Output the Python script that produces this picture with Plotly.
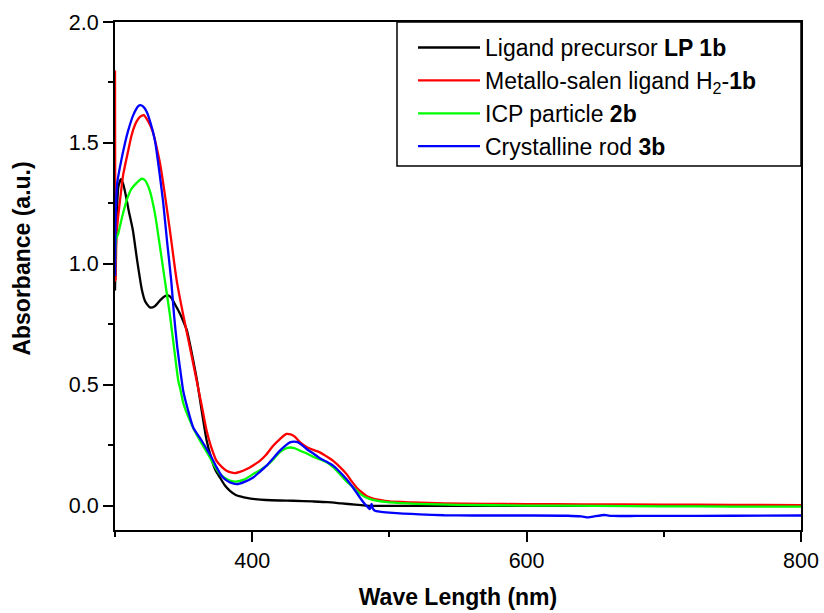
import plotly.graph_objects as go

# ---- data ----
lp_x = [300, 301, 302.5, 304.4, 306, 308, 310, 313, 316, 319.7, 322, 325.5, 329, 333, 336, 338.6,
        341, 344, 347.3, 350, 352.4, 356, 359.7, 363, 366.8, 370, 373, 376.5, 380, 383.8, 388, 392,
        396, 402, 410, 420, 430, 444, 455, 465, 475, 483, 490, 500, 520, 550, 600, 650, 700, 750, 800]
lp_y = [0.89, 1.15, 1.32, 1.35, 1.33, 1.28, 1.22, 1.14, 1.02, 0.89, 0.845, 0.82, 0.825, 0.85, 0.865, 0.87,
        0.86, 0.83, 0.795, 0.76, 0.725, 0.63, 0.52, 0.40, 0.27, 0.20, 0.15, 0.117, 0.085, 0.062, 0.045, 0.038,
        0.033, 0.028, 0.024, 0.022, 0.021, 0.018, 0.015, 0.010, 0.005, 0.001, 0.0, 0.0, 0.0, 0.0, 0.0, 0.0, 0.0, 0.0, 0.0]

h2_x = [300, 300.4, 301, 302, 303.6, 306, 309.7, 312, 314.6, 317, 319.4, 321, 323.1, 325.5, 327.9, 330,
        333, 336, 340, 345, 349.7, 354.6, 359.5, 363, 366.8, 370, 374, 378, 381.3, 384.5, 387.4, 391,
        396, 400, 405.6, 410, 415.3, 420, 425, 428, 431, 435, 439.6, 444, 449.3, 454, 459, 464, 468.8,
        472, 476, 480, 483.3, 487, 493, 500, 517, 540, 570, 600, 640, 700, 750, 800]
h2_y = [1.80, 0.93, 1.10, 1.18, 1.26, 1.37, 1.47, 1.53, 1.575, 1.60, 1.612, 1.615, 1.60, 1.575, 1.54, 1.49,
        1.41, 1.30, 1.14, 0.93, 0.79, 0.655, 0.518, 0.42, 0.31, 0.245, 0.186, 0.16, 0.145, 0.138, 0.135, 0.14,
        0.152, 0.165, 0.186, 0.21, 0.248, 0.275, 0.297, 0.295, 0.286, 0.262, 0.243, 0.232, 0.221, 0.205, 0.186, 0.16, 0.131,
        0.105, 0.076, 0.055, 0.041, 0.032, 0.024, 0.018, 0.014, 0.010, 0.008, 0.007, 0.006, 0.005, 0.004, 0.003]

icp_x = [300, 300.7, 302.4, 305, 308.5, 312, 315.8, 319.4, 322, 325.5, 329.1, 332.8, 336.4, 340, 343, 346.1,
         347.3, 350, 354.6, 358, 361.9, 365, 369.2, 373, 376.5, 380, 383.8, 388, 394, 400.7, 405, 410.5, 415,
         420, 424, 427.5, 431, 434.7, 439, 444.4, 449, 454.2, 459, 463.9, 468, 473.6, 477, 480.8, 485, 490.6,
         500, 520, 550, 600, 650, 700, 750, 800]
icp_y = [0.97, 1.10, 1.126, 1.19, 1.263, 1.31, 1.335, 1.352, 1.345, 1.30, 1.208, 1.07, 0.93, 0.79, 0.655, 0.518,
         0.49, 0.42, 0.352, 0.31, 0.27, 0.24, 0.20, 0.16, 0.131, 0.115, 0.104, 0.10, 0.108, 0.131, 0.145, 0.166, 0.19,
         0.221, 0.236, 0.241, 0.238, 0.228, 0.218, 0.203, 0.193, 0.18, 0.16, 0.131, 0.105, 0.076, 0.058, 0.041, 0.03, 0.021,
         0.014, 0.008, 0.004, 0.001, 0.0, -0.002, -0.003, -0.003]

rod_x = [300, 300.5, 301.5, 303.6, 307.3, 309.7, 313.3, 317, 318.5, 320.6, 323, 325.5, 329.1, 332.8, 335.2,
         338, 341, 343, 345.4, 348.6, 349.7, 353, 357, 363.1, 366.8, 370.4, 374, 377.7, 380.5, 383.8, 388.6,
         394, 400.7, 405, 410.5, 415, 420.2, 424, 427.5, 430.5, 433.5, 436.5, 439.6, 444, 449.3, 454, 459,
         463.9, 468.8, 472.5, 476, 479, 482.1, 484, 485.7, 487, 488, 489.4, 493, 500, 510, 522, 540, 560,
         600, 630, 640, 645, 650, 657, 660, 663, 680, 700, 750, 800]
rod_y = [0.95, 1.20, 1.33, 1.40, 1.50, 1.553, 1.615, 1.652, 1.656, 1.650, 1.63, 1.59, 1.51, 1.36, 1.25,
         1.09, 0.93, 0.79, 0.655, 0.518, 0.476, 0.40, 0.324, 0.27, 0.235, 0.20, 0.16, 0.124, 0.108, 0.097, 0.09,
         0.098, 0.117, 0.138, 0.166, 0.195, 0.228, 0.248, 0.262, 0.265, 0.262, 0.25, 0.235, 0.218, 0.197, 0.183, 0.166,
         0.14, 0.11, 0.083, 0.055, 0.03, 0.007, -0.004, -0.014, 0.008, -0.012, -0.02, -0.024, -0.028, -0.032, -0.035, -0.039, -0.04,
         -0.04, -0.041, -0.044, -0.048, -0.043, -0.038, -0.041, -0.042, -0.042, -0.042, -0.041, -0.040]

names = ["Ligand precursor <b>LP 1b</b>",
         "Metallo-salen ligand H<sub>2</sub>-<b>1b</b>",
         "ICP particle <b>2b</b>",
         "Crystalline rod <b>3b</b>"]
colors = ["#000000", "#FF0000", "#00FF00", "#0000FF"]

x_ticks = [400, 600, 800]
y_ticks = [0.0, 0.5, 1.0, 1.5, 2.0]

FONT = "Liberation Sans, Arial, sans-serif"

fig = go.Figure()
for xs, ys, nm, c in zip([lp_x, h2_x, icp_x, rod_x], [lp_y, h2_y, icp_y, rod_y], names, colors):
    fig.add_trace(go.Scatter(x=xs, y=ys, mode="lines", name=nm,
                             line=dict(color=c, width=2.3, shape="spline", smoothing=0.6)))

axis_common = dict(showline=True, linecolor="black", linewidth=2, mirror=True,
                   ticks="outside", ticklen=10, tickwidth=2, tickcolor="black",
                   showgrid=False, zeroline=False,
                   tickfont=dict(family=FONT, size=21.5, color="black"))

fig.update_xaxes(range=[300, 800], tickvals=x_ticks, ticktext=[str(v) for v in x_ticks],
                 minor=dict(ticks="outside", ticklen=5, tickwidth=2, tickcolor="black", dtick=100, tick0=0),
                 title=dict(text="<b>Wave Length (nm)</b>", font=dict(family=FONT, size=23, color="black"),
                            standoff=17),
                 **axis_common)
fig.update_yaxes(range=[-0.1, 2.0], tickvals=y_ticks, ticktext=[f"{v:.1f}" for v in y_ticks],
                 minor=dict(ticks="outside", ticklen=5, tickwidth=2, tickcolor="black", dtick=0.25, tick0=0),
                 **axis_common)

fig.add_annotation(text="<b>Absorbance (a.u.)</b>", textangle=-90, xref="paper", yref="paper",
                   x=-0.135, y=0.535, xanchor="center", yanchor="middle", showarrow=False,
                   font=dict(family=FONT, size=23, color="black"))

# legend frame
fig.add_shape(type="rect", xref="paper", yref="paper",
              x0=(397 - 115) / 686, x1=1.0, y0=(530 - 166) / 508, y1=1.0,
              line=dict(color="black", width=1.5), fillcolor="white", layer="below")

fig.update_layout(
    width=824, height=613,
    margin=dict(l=115, r=23, t=22, b=83, autoexpand=False),
    paper_bgcolor="white", plot_bgcolor="white",
    font=dict(family=FONT, color="black"),
    legend=dict(x=(413 - 115) / 686, y=0.992, xanchor="left", yanchor="top",
                borderwidth=0, bgcolor="rgba(0,0,0,0)",
                font=dict(family=FONT, size=23, color="black"),
                itemwidth=62, tracegroupgap=0),
)

fig.write_html("out.html", config={"displayModeBar": False},
               post_script="document.body.style.margin='0';document.body.style.padding='0';"
                           "document.body.style.overflow='hidden';")
